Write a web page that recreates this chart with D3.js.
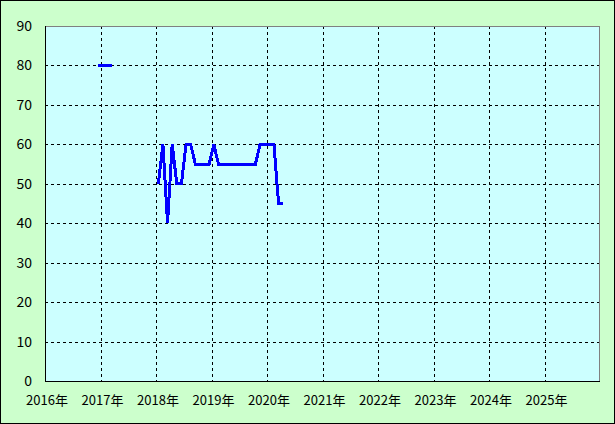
<!DOCTYPE html>
<html><head><meta charset="utf-8">
<script src="https://cdn.jsdelivr.net/npm/d3@7"></script>
<style>body{margin:0;background:#fff}svg{display:block}</style>
</head><body>
<script>
// Data (monthly, null = no data)
const months = [
  "2016-12","2017-01","2017-02","2017-03",
  "2018-01","2018-02","2018-03","2018-04","2018-05","2018-06","2018-07","2018-08","2018-09","2018-10","2018-11","2018-12",
  "2019-01","2019-02","2019-03","2019-04","2019-05","2019-06","2019-07","2019-08","2019-09","2019-10","2019-11","2019-12",
  "2020-01","2020-02","2020-03","2020-04"
];
const values = [
  80,80,80,80,
  50,60,40,60,50,50,60,60,55,55,55,55,
  60,55,55,55,55,55,55,55,55,55,60,60,
  60,60,45,45
];
const yearTicks = [2016,2017,2018,2019,2020,2021,2022,2023,2024,2025];
const yTicks = [0,10,20,30,40,50,60,70,80,90];

const W=615,H=424;
const L=45,R=600,T=26,B=381;
const svg=d3.select("body").append("svg").attr("width",W).attr("height",H);
svg.append("rect").attr("x",0.5).attr("y",0.5).attr("width",W-1).attr("height",H-1)
  .attr("fill","#ccffcc").attr("stroke","#000");
svg.append("rect").attr("x",L).attr("y",T).attr("width",R-L).attr("height",B-T).attr("fill","#ccffff");

const x=d3.scaleLinear().domain([2016,2026]).range([L,R]);
const y=d3.scaleLinear().domain([0,90]).range([B,T]);

// grid
const g=svg.append("g").attr("shape-rendering","crispEdges");
g.selectAll("line.v").data(yearTicks.filter(d=>d>2016)).join("line")
  .attr("x1",d=>Math.round(x(d))+0.5).attr("x2",d=>Math.round(x(d))+0.5)
  .attr("y1",T).attr("y2",B).attr("stroke","#000").attr("stroke-dasharray","3,3");
g.selectAll("line.h").data(yTicks.filter(d=>d>0&&d<90)).join("line")
  .attr("y1",d=>Math.round(y(d))+0.5).attr("y2",d=>Math.round(y(d))+0.5)
  .attr("x1",L).attr("x2",R).attr("stroke","#000").attr("stroke-dasharray","3,3");
// borders
g.append("line").attr("x1",L).attr("x2",R).attr("y1",T+0.5).attr("y2",T+0.5).attr("stroke","#808080");
g.append("line").attr("x1",R-0.5).attr("x2",R-0.5).attr("y1",T).attr("y2",B).attr("stroke","#808080");
g.append("line").attr("x1",L+0.5).attr("x2",L+0.5).attr("y1",T).attr("y2",B+1).attr("stroke","#000");
g.append("line").attr("x1",L).attr("x2",R).attr("y1",B+0.5).attr("y2",B+0.5).attr("stroke","#000");

// axes labels
const font="'MS PGothic','Noto Sans CJK JP',sans-serif";
svg.selectAll("text.y").data(yTicks).join("text")
  .attr("x",32).attr("y",d=>y(d)+5).attr("text-anchor","end")
  .attr("font-family",font).attr("font-size",14).attr("fill","#000").text(d=>d);
svg.selectAll("text.x").data(yearTicks).join("text")
  .attr("x",d=>x(d)+2).attr("y",405).attr("text-anchor","middle")
  .attr("font-family",font).attr("font-size",13).attr("fill","#000").text(d=>d+"年");

// line
const parse=s=>{const [yy,mm]=s.split("-").map(Number);return yy+(mm-0.5)/12;};
const pts=[];
months.forEach((m,i)=>{
  if(i>0){const prev=parse(months[i-1]);if(parse(m)-prev>0.1)pts.push(null);}
  pts.push({t:parse(m),v:values[i]});
});
const line=d3.line().defined(d=>d!==null).x(d=>x(d.t)).y(d=>y(d.v));
svg.append("path").datum(pts).attr("d",line).attr("fill","none")
  .attr("stroke","#0000ff").attr("stroke-width",3).attr("shape-rendering","crispEdges");
</script>
</body></html>
